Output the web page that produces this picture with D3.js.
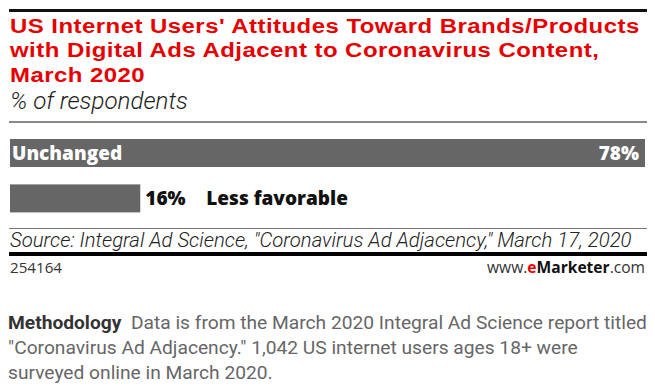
<!DOCTYPE html>
<html>
<head>
<meta charset="utf-8">
<script src="https://cdn.jsdelivr.net/npm/d3@7"></script>
<style>
  html, body { margin: 0; padding: 0; background: #fff; }
  svg { display: block; }
</style>
</head>
<body>
<div id="chart"></div>
<script>
const titleLines = [
    "US Internet Users' Attitudes Toward Brands/Products",
    "with Digital Ads Adjacent to Coronavirus Content,",
    "March 2020"
];
const subtitle = "% of respondents";
const categories = ["Unchanged", "Less favorable"];
const values = [78, 16];
const sourceText = "Source: Integral Ad Science, \"Coronavirus Ad Adjacency,\" March 17, 2020";
const chartId = "254164";
const methodologyLines = [
    "Data is from the March 2020 Integral Ad Science report titled",
    "\"Coronavirus Ad Adjacency.\" 1,042 US internet users ages 18+ were",
    "surveyed online in March 2020."
];

const width = 655;
const height = 391;
const left = 10;
const right = 645;
const barTop = 139;
const barHeight = 28;
const barStep = 39;
const barColor = "#666666";

const svg = d3.select("#chart")
    .append("svg")
    .attr("width", width)
    .attr("height", height);

// scale the font of a text so it spans the wanted width
const fitWidth = (sel, target) => {
    const node = sel.node();
    const size = parseFloat(sel.style("font-size"));
    const w = node.getComputedTextLength();
    const fitted = size * target / w;
    sel.style("font-size", fitted + "px");
    return fitted;
};

// header
svg.append("rect")
    .attr("x", 9).attr("y", 9)
    .attr("width", 638).attr("height", 3)
    .attr("fill", "#111");

const titleGroup = svg.append("g");

const titles = titleGroup.selectAll("text.title")
    .data(titleLines)
    .enter()
    .append("text")
    .attr("class", "title")
    .attr("x", 0)
    .attr("y", (d, i) => 33 + i * 24.5)
    .attr("fill", "#e60000")
    .style("font-family", "'Liberation Sans', Arial, sans-serif")
    .style("font-weight", 700)
    .style("font-size", "21px")
    .style("letter-spacing", "0.4px")
    .text(d => d);

// the original title face is wider: stretch the lines sideways to the same span
const stretch = 630 / titles.nodes()[0].getComputedTextLength();
titleGroup.attr("transform", `translate(${left},0) scale(${stretch},1)`);

const sub = svg.append("text")
    .attr("x", left)
    .attr("y", 109)
    .attr("fill", "#222")
    .style("font-family", "Roboto, sans-serif")
    .style("font-weight", 300)
    .style("font-style", "italic")
    .style("font-size", "20px")
    .text(subtitle);
fitWidth(sub, 178);

svg.append("rect")
    .attr("x", 9).attr("y", 121)
    .attr("width", 638).attr("height", 2)
    .attr("fill", "#888");

// bars
const x = d3.scaleLinear()
    .domain([0, d3.max(values)])
    .range([0, right - left]);

const y = d3.scaleBand()
    .domain(categories)
    .range([barTop, barTop + barStep * categories.length])
    .paddingInner((barStep - barHeight) / barStep)
    .paddingOuter(0)
    .align(0);

const rows = svg.selectAll("g.row")
    .data(categories.map((c, i) => ({ name: c, value: values[i] })))
    .enter()
    .append("g")
    .attr("class", "row");

rows.append("rect")
    .attr("x", left)
    .attr("y", d => y(d.name))
    .attr("width", d => x(d.value))
    .attr("height", barHeight)
    .attr("fill", barColor);

const labelFont = (sel) => sel
    .style("font-family", "'Open Sans', sans-serif")
    .style("font-weight", 800)
    .style("font-size", "19px");

rows.each(function (d) {
    const row = d3.select(this);
    const cy = y(d.name) + barHeight / 2;
    const w = x(d.value);
    if (w > 300) {
        row.append("text")
            .attr("x", left + 2)
            .attr("y", cy)
            .attr("dy", "0.36em")
            .attr("fill", "#fff")
            .call(labelFont)
            .text(d.name);
        row.append("text")
            .attr("x", left + w - 6)
            .attr("y", cy)
            .attr("dy", "0.36em")
            .attr("text-anchor", "end")
            .attr("fill", "#fff")
            .call(labelFont)
            .text(d.value + "%");
    } else {
        row.append("text")
            .attr("x", left + w + 5)
            .attr("y", cy)
            .attr("dy", "0.36em")
            .attr("fill", "#111")
            .call(labelFont)
            .text(d.value + "%");
        row.append("text")
            .attr("x", left + w + 66)
            .attr("y", cy)
            .attr("dy", "0.36em")
            .attr("fill", "#111")
            .call(labelFont)
            .text(d.name);
    }
});

// footer
svg.append("rect")
    .attr("x", 9).attr("y", 228)
    .attr("width", 638).attr("height", 1)
    .attr("fill", "#777");

const src = svg.append("text")
    .attr("x", left)
    .attr("y", 247)
    .attr("fill", "#222")
    .style("font-family", "Roboto, sans-serif")
    .style("font-style", "italic")
    .style("font-weight", 300)
    .style("font-size", "18px")
    .text(sourceText);
fitWidth(src, 622);

svg.append("rect")
    .attr("x", 9).attr("y", 252)
    .attr("width", 638).attr("height", 4)
    .attr("fill", "#000");

const idText = svg.append("text")
    .attr("x", left)
    .attr("y", 273)
    .attr("fill", "#333")
    .style("font-family", "'Open Sans', sans-serif")
    .style("font-size", "14px")
    .text(chartId);
fitWidth(idText, 52);

const brand = svg.append("text")
    .attr("x", right)
    .attr("y", 273)
    .attr("text-anchor", "end")
    .attr("fill", "#333")
    .style("font-family", "'Open Sans', sans-serif")
    .style("font-size", "15px");
brand.append("tspan").text("www.");
brand.append("tspan").attr("fill", "#e60000").style("font-weight", 700).text("e");
brand.append("tspan").attr("fill", "#111").style("font-weight", 700).text("Marketer");
brand.append("tspan").text(".com");
fitWidth(brand, 158);

// methodology
const meth = svg.append("g")
    .style("font-family", "Roboto, sans-serif")
    .style("font-size", "19.2px");

meth.selectAll("text")
    .data(methodologyLines)
    .enter()
    .append("text")
    .attr("x", 8)
    .attr("y", (d, i) => 329 + i * 25)
    .attr("fill", "#666")
    .each(function (d, i) {
        const t = d3.select(this);
        if (i === 0) {
            t.append("tspan")
                .attr("fill", "#333")
                .style("font-weight", 700)
                .text("Methodology");
            t.append("tspan").text("\u00a0 " + d);
        } else {
            t.text(d);
        }
    });
</script>
</body>
</html>
